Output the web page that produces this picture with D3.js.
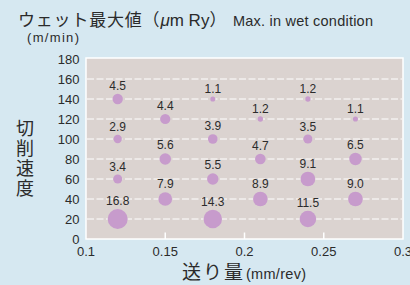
<!DOCTYPE html>
<html><head><meta charset="utf-8">
<script src="https://cdn.jsdelivr.net/npm/d3@7"></script>
<style>
html,body{margin:0;padding:0;background:#d6e8f1;}
svg{display:block;}
text{fill:#2b2b2b;}
</style></head>
<body>
<svg id="c" width="410" height="285"></svg>
<script>
const feeds  = [0.12,0.12,0.12,0.12, 0.15,0.15,0.15, 0.18,0.18,0.18,0.18, 0.21,0.21,0.21, 0.24,0.24,0.24,0.24, 0.27,0.27,0.27];
const speeds = [20,60,100,140, 40,80,120, 20,60,100,140, 40,80,120, 20,60,100,140, 40,80,120];
const values = [16.8,3.4,2.9,4.5, 7.9,5.6,4.4, 14.3,5.5,3.9,1.1, 8.9,4.7,1.2, 11.5,9.1,3.5,1.2, 9.0,6.5,1.1];
const xTicks = [0.1,0.15,0.2,0.25,0.3];
const xTickLabels = ["0.1","0.15","0.2","0.25","0.3"];
const yTicks = [0,20,40,60,80,100,120,140,160,180];
const gridLines = [20,40,60,80,100,120,140,160];

const svg = d3.select("#c");
const latin = "'Liberation Sans', Arial, Helvetica, sans-serif";
const cjk = "'Noto Sans CJK JP', 'Noto Sans', sans-serif";

const x = d3.scaleLinear().domain([0.1,0.3]).range([86,403]);
const y = d3.scaleLinear().domain([0,180]).range([239,59]);
const r = d3.scaleSqrt().domain([0,16.8]).range([0,10]);

svg.append("rect").attr("width",410).attr("height",285).attr("fill","#d6e8f1");

// plot area
svg.append("rect")
  .attr("x",x(0.1)).attr("y",y(180)-1)
  .attr("width",x(0.3)-x(0.1)).attr("height",y(0)-y(180)+1)
  .attr("fill","#dbd3d0").attr("stroke","#ffffff").attr("stroke-width",1.5);

// grid
svg.append("g").selectAll("line").data(gridLines).join("line")
  .attr("x1",x(0.1)+1).attr("x2",x(0.3)-1)
  .attr("y1",d=>y(d)).attr("y2",d=>y(d))
  .attr("stroke","#ffffff").attr("stroke-width",1).attr("stroke-dasharray","7,2.5");

// x inner ticks
svg.append("g").selectAll("line").data(xTicks.slice(1,-1)).join("line")
  .attr("x1",d=>x(d)).attr("x2",d=>x(d))
  .attr("y1",y(0)).attr("y2",y(0)-6.5)
  .attr("stroke","#ffffff").attr("stroke-width",1.5);

// y tick labels
svg.append("g").selectAll("text").data(yTicks).join("text")
  .attr("x",79.5).attr("y",d=>y(d)+4.6)
  .attr("text-anchor","end")
  .style("font-family",latin).style("font-size","13px")
  .text(d=>d);

// x tick labels
svg.append("g").selectAll("text").data(xTicks).join("text")
  .attr("x",d=>x(d)).attr("y",255.5)
  .attr("text-anchor","middle")
  .style("font-family",latin).style("font-size","13px")
  .text((d,i)=>xTickLabels[i]);

// bubbles
const pts = values.map((v,i)=>({v, f:feeds[i], s:speeds[i]}));
svg.append("g").selectAll("circle").data(pts).join("circle")
  .attr("cx",d=>x(d.f)).attr("cy",d=>y(d.s)).attr("r",d=>r(d.v))
  .attr("fill","#c79bcc");
svg.append("g").selectAll("text").data(pts).join("text")
  .attr("x",d=>x(d.f)).attr("y",d=>y(d.s)-r(d.v)-3.8)
  .attr("text-anchor","middle")
  .style("font-family",latin).style("font-size","12px")
  .text(d=>d.v.toFixed(1));

// title (one text element, flowing)
const t = svg.append("text").attr("x",18).attr("y",25.5);
t.append("tspan").style("font-family",cjk).style("font-size","17px")
  .style("letter-spacing","0.8px").text("ウェット最大値（");
t.append("tspan").style("font-family",latin).style("font-size","17px")
  .style("font-style","italic").text("μ");
t.append("tspan").style("font-family",latin).style("font-size","17px").text("m Ry");
t.append("tspan").style("font-family",cjk).style("font-size","17px").text("）");

svg.append("text").attr("x",233).attr("y",25.5)
  .attr("textLength",140).attr("lengthAdjust","spacing")
  .style("font-family",latin).style("font-size","14.5px").text("Max. in wet condition");

svg.append("text").attr("x",27).attr("y",41.5)
  .attr("textLength",52).attr("lengthAdjust","spacing")
  .style("font-family",latin).style("font-size","13px").text("(m/min)");

// y title vertical
svg.append("text").attr("x",25).attr("y",119)
  .style("writing-mode","vertical-rl").style("text-orientation","upright")
  .style("letter-spacing","2px")
  .style("font-family",cjk).style("font-size","18px")
  .text("切削速度");

// x title
svg.append("text").attr("x",182).attr("y",279)
  .attr("textLength",61).attr("lengthAdjust","spacing")
  .style("font-family",cjk).style("font-size","19px").text("送り量");
svg.append("text").attr("x",246).attr("y",279)
  .attr("textLength",60).attr("lengthAdjust","spacing")
  .style("font-family",latin).style("font-size","14.5px").text("(mm/rev)");
</script>
</body></html>
